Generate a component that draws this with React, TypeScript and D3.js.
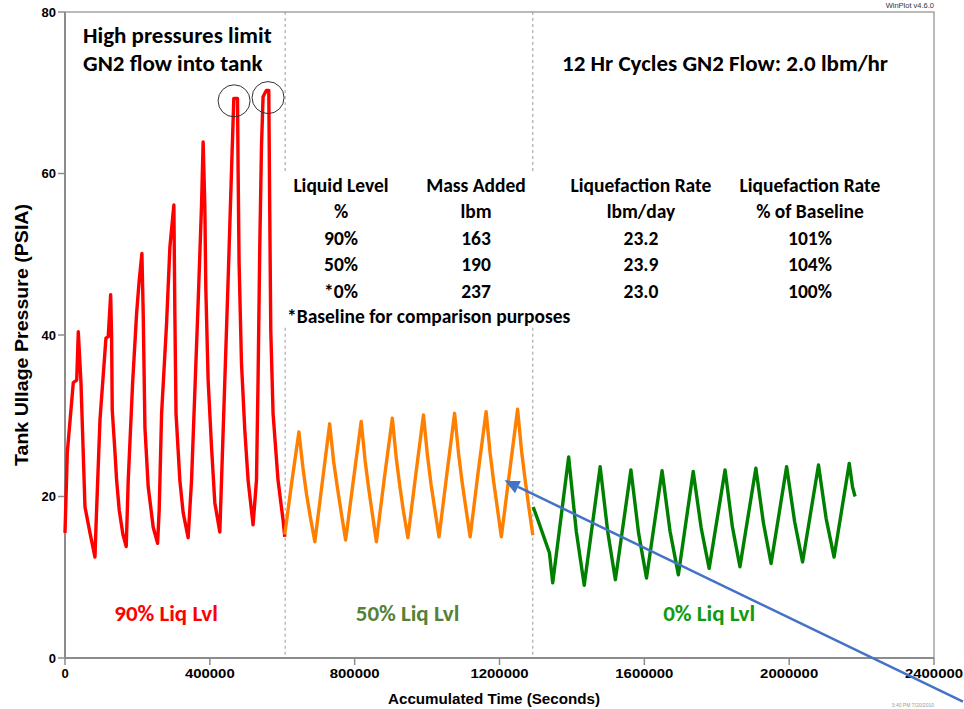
import React from 'react';
import * as d3 from 'd3';

// Tank ullage pressure traces [seconds, psia]
const red90: [number, number][] = [
  [0, 15.5], [6300, 25.4], [22900, 34.1], [32300, 34.4], [36700, 40.4], [44100, 34.1], [47700, 29.1],
  [55200, 18.7], [69000, 15.5], [82800, 12.5],
  [85500, 16.2], [96600, 29.5], [113100, 39.6], [119400, 39.8], [126100, 45.0], [128700, 39.8],
  [130500, 30.7], [138000, 25.5], [142600, 22.0], [149800, 18.3], [160000, 15.3], [169100, 13.8],
  [174600, 22.0], [186800, 34.1], [197800, 42.7], [205000, 46.8], [212400, 50.1], [216000, 42.7],
  [220700, 28.6], [229800, 21.2], [243600, 16.2], [255700, 14.2],
  [260100, 18.3], [266800, 30.3], [280600, 41.5], [289700, 50.9], [300700, 56.1], [303400, 42.7],
  [306600, 30.3], [317200, 22.0], [326300, 18.0], [340100, 14.9],
  [349500, 22.0], [358600, 33.0], [367700, 44.0], [377100, 56.1], [381500, 63.9], [386200, 55.9],
  [389000, 45.6], [395300, 34.4], [404700, 26.1], [413800, 19.2], [427600, 15.6],
  [432300, 22.0], [441400, 34.4], [450500, 46.8], [459900, 60.4], [466200, 69.3], [476400, 69.3],
  [478100, 60.4], [480800, 48.9], [487400, 36.5], [496600, 28.2], [505700, 22.0], [519400, 16.5],
  [528800, 22.0], [533200, 34.4], [537900, 50.9], [542600, 63.3], [547000, 69.5], [556400, 70.3],
  [562800, 70.3], [565500, 55.1], [568300, 40.6], [574600, 30.3], [588400, 22.0], [602200, 17.1],
  [607000, 15.0],
];

const orange50: [number, number][] = [
  [607000, 15.3], [627000, 22.0], [646000, 28.0], [657000, 23.6], [667000, 20.3], [677000, 17.6], [690000, 14.4],
  [711000, 21.9], [731000, 29.0], [742000, 24.3], [753000, 20.9], [763000, 18.0], [775000, 14.6],
  [797000, 22.2], [818000, 29.3], [829000, 24.4], [839000, 20.9], [849000, 17.8], [860000, 14.4],
  [882000, 22.3], [904000, 29.7], [915000, 24.7], [925000, 21.2], [935000, 18.1], [947000, 14.9],
  [969000, 22.8], [990000, 30.1], [1001000, 25.1], [1011000, 21.5], [1021000, 18.5], [1033000, 15.0],
  [1055000, 22.9], [1076000, 30.3], [1087000, 25.3], [1097000, 21.7], [1107000, 18.6], [1119000, 15.0],
  [1141000, 23.0], [1163000, 30.5], [1174000, 25.4], [1184000, 21.8], [1194000, 18.6], [1205000, 15.0],
  [1228000, 23.1], [1250000, 30.8], [1261000, 25.6], [1271000, 22.0], [1281000, 18.7], [1292000, 15.2],
];

const green0: [number, number][] = [
  [1293000, 18.7], [1306000, 17.1], [1338000, 13.0], [1347000, 9.3],
  [1391000, 24.9], [1412000, 15.7], [1434000, 9.0],
  [1478000, 23.7], [1499000, 15.6], [1520000, 9.7],
  [1563000, 23.3], [1584000, 15.5], [1606000, 9.9],
  [1649000, 23.2], [1671000, 15.7], [1694000, 10.3],
  [1735000, 23.1], [1757000, 16.1], [1779000, 11.1],
  [1823000, 23.3], [1843000, 16.3], [1864000, 11.3],
  [1908000, 23.5], [1929000, 16.7], [1950000, 11.7],
  [1993000, 23.7], [2015000, 16.9], [2037000, 11.9],
  [2081000, 23.9], [2102000, 17.3], [2124000, 12.5],
  [2166000, 24.1], [2175000, 21.2], [2182000, 20.0],
];

const xTicks = [0, 400000, 800000, 1200000, 1600000, 2000000, 2400000];
const yTicks = [0, 20, 40, 60, 80];

// phase boundaries (dashed lines)
const phaseBreaks = [608000, 1292000];

// summary table
const headerRow1 = ['Liquid Level', 'Mass Added', 'Liquefaction Rate', 'Liquefaction Rate'];
const headerRow2 = ['%', 'lbm', 'lbm/day', '% of Baseline'];
const liquidLevel = ['90%', '50%', '*0%'];
const massAdded = ['163', '190', '237'];
const liqRate = ['23.2', '23.9', '23.0'];
const pctBaseline = ['101%', '104%', '100%'];

const phaseLabels = ['90% Liq Lvl', '50% Liq Lvl', '0% Liq Lvl'];
const phaseLabelX = [279000, 946000, 1779000]; // centre of each label, seconds
const phaseColors = ['#ff0000', '#548235', '#109a10'];

// circled peaks [seconds, psia]
const circledPeaks: [number, number][] = [[467000, 69.0], [560800, 69.4]];
// arrow pointing at the 50% trace
const arrowFrom: [number, number] = [2480000, -5.4];
const arrowTo: [number, number] = [1214000, 22.0];

const App = () => {
  const width = 964;
  const height = 709;
  const margin = { top: 12, right: 30, bottom: 51, left: 65 };

  const x = d3.scaleLinear().domain([0, 2400000]).range([margin.left, width - margin.right]);
  const y = d3.scaleLinear().domain([0, 80]).range([height - margin.bottom, margin.top]);

  const line = d3.line<[number, number]>()
    .x(d => x(d[0]))
    .y(d => y(d[1]));

  const calibri = "Carlito, Calibri, Lato, sans-serif";
  const arial = "'Liberation Sans', Arial, sans-serif";
  const axisColor = '#8c8c8c';

  // arrowhead geometry
  const ax1 = x(arrowFrom[0]), ay1 = y(arrowFrom[1]);
  const ax2 = x(arrowTo[0]), ay2 = y(arrowTo[1]);
  const ang = Math.atan2(ay2 - ay1, ax2 - ax1);
  const headLen = 15, headW = 7;
  const bx = ax2 - headLen * Math.cos(ang), by = ay2 - headLen * Math.sin(ang);
  const head = [
    [ax2, ay2],
    [bx + headW * Math.sin(ang), by - headW * Math.cos(ang)],
    [bx - headW * Math.sin(ang), by + headW * Math.cos(ang)],
  ];

  const colX = [341, 476, 641, 810];
  const rowY = [192, 218, 245, 271, 298];

  return (
    <svg width={width} height={height} style={{ position: 'absolute', left: 0, top: 0, background: '#fff' }}>
      {/* frame */}
      <rect x={x(0)} y={y(80)} width={x(2400000) - x(0)} height={y(0) - y(80)} fill="none" stroke={axisColor} strokeWidth={1.2} />
      <line x1={x(0)} x2={x(0)} y1={y(80)} y2={y(0)} stroke={axisColor} strokeWidth={2} />
      <line x1={x(0)} x2={x(2400000)} y1={y(0)} y2={y(0)} stroke={axisColor} strokeWidth={2} />

      {/* y axis */}
      {yTicks.map(t => (
        <g key={'y' + t}>
          <line x1={x(0) - 7} x2={x(0)} y1={y(t)} y2={y(t)} stroke={axisColor} strokeWidth={1.5} />
          <text x={x(0) - 9} y={y(t) + 4.5} textAnchor="end" fontFamily={arial} fontWeight="bold" fontSize={13}>{t}</text>
        </g>
      ))}
      {/* x axis */}
      {xTicks.map(t => (
        <g key={'x' + t}>
          <line x1={x(t)} x2={x(t)} y1={y(0)} y2={y(0) + 7} stroke={axisColor} strokeWidth={1.5} />
          <text x={x(t)} y={y(0) + 20} textAnchor="middle" fontFamily={arial} fontWeight="bold" fontSize={13}
            textLength={t === 0 ? undefined : (String(t).length * 8.3)} lengthAdjust="spacingAndGlyphs">{t}</text>
        </g>
      ))}
      <text x={494} y={704} textAnchor="middle" fontFamily={arial} fontWeight="bold" fontSize={14}
        textLength={212} lengthAdjust="spacingAndGlyphs">Accumulated Time (Seconds)</text>
      <text transform="translate(28,335) rotate(-90)" textAnchor="middle" fontFamily={arial} fontWeight="bold" fontSize={18}
        textLength={262} lengthAdjust="spacingAndGlyphs">Tank Ullage Pressure (PSIA)</text>

      <text x={x(2400000)} y={8} textAnchor="end" fontFamily={arial} fontSize={7.5} fill="#333">WinPlot v4.6.0</text>
      <text x={x(2400000)} y={707} textAnchor="end" fontFamily={arial} fontSize={5} fill="#999">3:40 PM 7/20/2010</text>

      {/* phase boundaries, broken where the table sits */}
      {phaseBreaks.map(b => (
        <g key={'b' + b} stroke="#9a9a9a" strokeWidth={1} strokeDasharray="3,3">
          <line x1={x(b)} x2={x(b)} y1={y(80)} y2={y(60)} />
          <line x1={x(b)} x2={x(b)} y1={y(40.9)} y2={y(0)} />
        </g>
      ))}

      {/* traces */}
      <path d={line(red90) || ''} fill="none" stroke="#ff0000" strokeWidth={3.4} strokeLinejoin="round" />
      <path d={line(orange50) || ''} fill="none" stroke="#ff8000" strokeWidth={3.4} strokeLinejoin="round" />
      <path d={line(green0) || ''} fill="none" stroke="#008000" strokeWidth={3.4} strokeLinejoin="round" />

      {circledPeaks.map((p, i) => (
        <circle key={'c' + i} cx={x(p[0])} cy={y(p[1])} r={16} fill="none" stroke="#333" strokeWidth={1} />
      ))}

      {/* annotations */}
      <g fontFamily={calibri} fontWeight="bold" fontSize={23} fill="#000">
        <text x={83} y={43}>High pressures limit</text>
        <text x={83} y={71}>GN2 flow into tank</text>
        <text x={562} y={71}>12 Hr Cycles GN2 Flow: 2.0 lbm/hr</text>
      </g>

      <g fontFamily={calibri} fontWeight="bold" fontSize={19.5} fill="#000" textAnchor="middle">
        {headerRow1.map((h, i) => <text key={'h1' + i} x={colX[i]} y={rowY[0]}>{h}</text>)}
        {headerRow2.map((h, i) => <text key={'h2' + i} x={colX[i]} y={rowY[1]}>{h}</text>)}
        {liquidLevel.map((v, r) => (
          <g key={'r' + r}>
            <text x={colX[0]} y={rowY[r + 2]}>{v}</text>
            <text x={colX[1]} y={rowY[r + 2]}>{massAdded[r]}</text>
            <text x={colX[2]} y={rowY[r + 2]}>{liqRate[r]}</text>
            <text x={colX[3]} y={rowY[r + 2]}>{pctBaseline[r]}</text>
          </g>
        ))}
        <text x={287} y={323} textAnchor="start">*Baseline for comparison purposes</text>
      </g>

      {phaseLabels.map((l, i) => (
        <text key={l} x={x(phaseLabelX[i])} y={621} textAnchor="middle" fontFamily={calibri} fontWeight="bold"
          fontSize={23} fill={phaseColors[i]}>{l}</text>
      ))}

      <line x1={ax1} y1={ay1} x2={bx} y2={by} stroke="#4472c4" strokeWidth={2.5} />
      <polygon points={head.map(p => p.join(',')).join(' ')} fill="#4472c4" />
    </svg>
  );
};

export default App;
